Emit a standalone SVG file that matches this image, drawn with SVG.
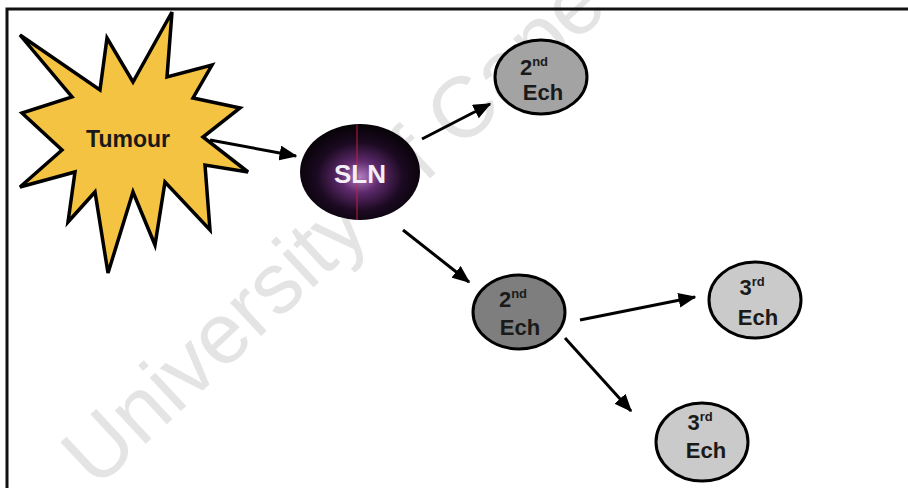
<svg xmlns="http://www.w3.org/2000/svg" width="908" height="488" viewBox="0 0 908 488">
<defs>
<style>
.lbl{font-family:"Liberation Sans",Arial,sans-serif;font-weight:bold;fill:#1a1a1a;}
.ech{stroke:#000;stroke-width:3;}
.conn{stroke:#000;stroke-width:3;fill:none;}
</style>
<radialGradient id="slnGrad" cx="50%" cy="55%" r="55%">
<stop offset="0" stop-color="#b27cc0"/>
<stop offset="0.3" stop-color="#5e2a6c"/>
<stop offset="0.65" stop-color="#1c0a22"/>
<stop offset="1" stop-color="#050205"/>
</radialGradient>
<marker id="arr" markerWidth="6" markerHeight="5" refX="5.5" refY="2.5" orient="auto" markerUnits="strokeWidth">
<path d="M0,0 L6,2.5 L0,5 Z" fill="#000"/>
</marker>
</defs>
<rect width="908" height="488" fill="#fff"/>
<text x="0" y="0" transform="translate(96,490) rotate(-43)" font-family="Liberation Sans,Arial,sans-serif" font-size="86" fill="#e4e4e4">University of Cape Town</text>
<path d="M7,488 L7,9 L908,9" fill="none" stroke="#111" stroke-width="3"/>
<g id="connectors">
<line class="conn" x1="210" y1="140" x2="296" y2="156" marker-end="url(#arr)"/>
<line class="conn" x1="422" y1="139" x2="490" y2="104" marker-end="url(#arr)"/>
<line class="conn" x1="403" y1="230" x2="469" y2="282" marker-end="url(#arr)"/>
<line class="conn" x1="580" y1="320" x2="695" y2="297" marker-end="url(#arr)"/>
<line class="conn" x1="565" y1="338" x2="631" y2="411" marker-end="url(#arr)"/>
</g>
<g id="tumour">
<polygon points="20,35 100,90 107,38 133,82 172,12 167,77 212,65 193,98 240,108 203,137 248,172 205,165 210,230 165,182 155,245 133,192 108,273 95,192 68,222 75,172 20,187 62,150 22,113 72,97" fill="#f5c342" stroke="#000" stroke-width="3.5" stroke-linejoin="miter"/>
<text class="lbl" x="128" y="147" font-size="23" text-anchor="middle">Tumour</text>
</g>
<g id="sln">
<ellipse cx="360" cy="172" rx="60" ry="48" fill="url(#slnGrad)"/>
<line x1="357" y1="125" x2="357" y2="220" stroke="#d02040" stroke-width="1.5" opacity="0.6"/>
<text x="360" y="183" font-family="Liberation Sans,Arial,sans-serif" font-weight="bold" font-size="26" fill="#f4eef6" text-anchor="middle">SLN</text>
</g>
<g id="ech2a">
<ellipse class="ech" cx="541" cy="77" rx="46" ry="37" fill="#a3a3a3"/>
<text class="lbl" x="534" y="75" font-size="22" text-anchor="middle">2<tspan font-size="13" dy="-9">nd</tspan></text>
<text class="lbl" x="543" y="100" font-size="22" text-anchor="middle">Ech</text>
</g>
<g id="ech2b">
<ellipse class="ech" cx="519" cy="312" rx="46" ry="37" fill="#7e7e7e"/>
<text class="lbl" x="513" y="307" font-size="22" text-anchor="middle">2<tspan font-size="13" dy="-9">nd</tspan></text>
<text class="lbl" x="520" y="335" font-size="22" text-anchor="middle">Ech</text>
</g>
<g id="ech3a">
<ellipse class="ech" cx="755" cy="300" rx="46" ry="38" fill="#cacaca"/>
<text class="lbl" x="752" y="295" font-size="22" text-anchor="middle">3<tspan font-size="13" dy="-9">rd</tspan></text>
<text class="lbl" x="758" y="325" font-size="22" text-anchor="middle">Ech</text>
</g>
<g id="ech3b">
<ellipse class="ech" cx="702" cy="442" rx="46" ry="39" fill="#cacaca"/>
<text class="lbl" x="700" y="430" font-size="22" text-anchor="middle">3<tspan font-size="13" dy="-9">rd</tspan></text>
<text class="lbl" x="706" y="458" font-size="22" text-anchor="middle">Ech</text>
</g>
</svg>
